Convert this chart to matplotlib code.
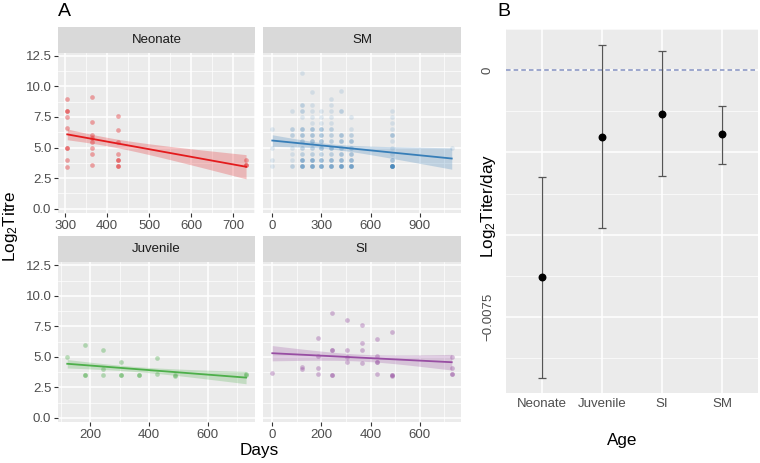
import matplotlib
matplotlib.use("Agg")
import matplotlib.pyplot as plt
import numpy as np

plt.rcParams['font.family'] = ['Liberation Sans', 'DejaVu Sans']
plt.rcParams['mathtext.fontset'] = 'custom'
plt.rcParams['mathtext.rm'] = 'Liberation Sans'
plt.rcParams['mathtext.it'] = 'Liberation Sans'

# Panel A data: day, log2 titre and how many samples sit on that same spot
#---------------------------------------------------------------------------
neonate_days = [305]*7 + [365]*8 + [426]*6 + [730]*2
neonate_titre = [9.0, 8.0, 7.5, 6.6, 5.0, 4.0, 3.4,
                 9.1, 7.1, 6.05, 5.8, 5.45, 5.0, 4.5, 3.55,
                 7.55, 6.45, 5.45, 4.5, 4.0, 3.45,
                 4.0, 3.6]
neonate_count = [3, 6, 3, 3, 6, 3, 3,
                 3, 3, 3, 3, 3, 3, 3, 3,
                 3, 3, 3, 3, 6, 6,
                 3, 6]

sm_days = ([0]*4 + [120]*7 + [180]*11 + [240]*12 + [300]*10 + [360]*12
           + [420]*8 + [480]*8 + [730]*10 + [1095])
sm_titre = [6.5, 5.0, 4.0, 3.5,
            8.0, 6.5, 6.0, 5.0, 4.5, 4.0, 3.5,
            11.1, 8.5, 8.0, 7.5, 6.5, 6.0, 5.5, 5.0, 4.5, 4.0, 3.5,
            9.5, 8.5, 8.0, 7.5, 7.0, 6.5, 6.0, 5.5, 5.0, 4.5, 4.0, 3.5,
            8.0, 7.5, 7.0, 6.5, 6.0, 5.5, 5.0, 4.5, 4.0, 3.5,
            9.0, 8.5, 8.0, 7.5, 7.0, 6.5, 6.0, 5.5, 5.0, 4.5, 4.0, 3.5,
            9.6, 8.0, 6.0, 5.5, 5.0, 4.5, 4.0, 3.5,
            7.5, 6.5, 6.0, 5.5, 5.0, 4.5, 4.0, 3.5,
            8.0, 7.5, 7.0, 6.5, 6.0, 5.5, 5.0, 4.5, 4.0, 3.5,
            5.0]
sm_count = [1, 1, 1, 1,
            1, 2, 2, 1, 1, 1, 2,
            1, 2, 2, 1, 3, 3, 2, 2, 2, 5, 6,
            1, 1, 1, 1, 1, 3, 3, 3, 2, 2, 5, 6,
            1, 1, 1, 3, 3, 3, 3, 2, 4, 6,
            1, 1, 1, 1, 1, 2, 2, 2, 3, 2, 4, 6,
            1, 2, 3, 3, 2, 3, 4, 7,
            1, 1, 2, 3, 2, 3, 4, 7,
            1, 1, 1, 1, 3, 1, 1, 1, 3, 13,
            1]

juvenile_days = [121, 183, 183, 242, 242, 242, 304, 304,
                 364, 427, 427, 487, 487, 730, 730]
juvenile_titre = [5.0, 6.0, 3.5, 5.6, 4.0, 3.5, 4.55, 3.5,
                  3.5, 4.95, 3.6, 3.5, 3.4, 3.5, 3.6]
juvenile_count = [3, 3, 6, 3, 3, 3, 3, 6,
                  6, 3, 3, 3, 3, 3, 3]

si_days = [0, 122, 122, 184, 184, 184, 184, 242, 242, 242,
           303, 303, 303, 303, 364, 364, 364, 364, 425, 425, 425, 425,
           486, 486, 486, 730, 730, 730]
si_titre = [3.7, 4.15, 4.0, 6.55, 5.1, 4.1, 3.6, 8.6, 5.6, 3.5,
            8.05, 5.55, 5.0, 4.6, 7.65, 6.1, 5.55, 4.5, 6.5, 5.05, 4.55, 3.6,
            7.05, 3.5, 3.45, 5.0, 4.1, 3.6]
si_count = [3, 3, 3, 3, 3, 3, 3, 3, 6, 6,
            3, 3, 3, 3, 3, 3, 3, 3, 3, 3, 6, 3,
            3, 6, 3, 3, 3, 6]

# Panel B data (slope estimate with 95% CI)
#---------------------------------------------------------------------------
age_groups = ['Neonate', 'Juvenile', 'SI', 'SM']
slope_est = [-0.00630, -0.00202, -0.00132, -0.00195]
slope_low = [-0.00935, -0.00480, -0.00322, -0.00285]
slope_high = [-0.00326, 0.00077, 0.00060, -0.00107]

W, H = 760, 463
BG = '#EBEBEB'
STRIP = '#D9D9D9'
TXT = '#4D4D4D'
FS_TICK = 9.5
FS_TITLE = 12.3


def px_axes(fig, x0, y0, x1, y1):
    # pixel box (top-left origin) -> axes
    return fig.add_axes([x0 / W, 1 - y1 / H, (x1 - x0) / W, (y1 - y0) / H])


def fit_line(x, y, xs):
    x = np.asarray(x, float)
    y = np.asarray(y, float)
    n = len(x)
    b, a = np.polyfit(x, y, 1)
    res = y - (a + b * x)
    s = np.sqrt(np.sum(res**2) / (n - 2))
    sxx = np.sum((x - x.mean())**2)
    se = s * np.sqrt(1 / n + (xs - x.mean())**2 / sxx)
    df = n - 2
    z = 1.96
    t = z + (z**3 + z) / (4 * df) + (5 * z**5 + 16 * z**3 + 3 * z) / (96 * df**2)
    yhat = a + b * xs
    return yhat, yhat - t * se, yhat + t * se


def style_panel(ax, xmajor, xminor, show_y):
    ax.set_facecolor(BG)
    for sp in ax.spines.values():
        sp.set_visible(False)
    ax.set_xticks(xmajor)
    ax.set_xticks(xminor, minor=True)
    ax.set_yticks([0, 2.5, 5.0, 7.5, 10.0, 12.5])
    ax.set_yticks([1.25, 3.75, 6.25, 8.75, 11.25], minor=True)
    ax.grid(True, which='major', color='white', lw=1.1)
    ax.grid(True, which='minor', color='white', lw=0.5)
    ax.set_axisbelow(True)
    ax.tick_params(which='major', length=3, color='#333333', labelcolor=TXT,
                   labelsize=FS_TICK, pad=2)
    ax.tick_params(which='minor', length=0)
    ax.set_yticklabels(['0.0', '2.5', '5.0', '7.5', '10.0', '12.5'])
    if not show_y:
        ax.tick_params(axis='y', which='both', left=False, labelleft=False)
    ax.set_ylim(-0.33, 12.75)


def strip(fig, x0, y0, x1, y1, label):
    s = px_axes(fig, x0, y0, x1, y1)
    s.set_facecolor(STRIP)
    s.set_xticks([])
    s.set_yticks([])
    for sp in s.spines.values():
        sp.set_visible(False)
    s.text(0.5, 0.5, label, ha='center', va='center', fontsize=FS_TICK, color='#1A1A1A')


fig = plt.figure(figsize=(7.6, 4.63), dpi=100)

panels = [
    ('Neonate', neonate_days, neonate_titre, neonate_count, '#E41A1C',
     (58.3, 27.3, 255, 52.7, 212.7), [300, 400, 500, 600, 700], [350, 450, 550, 650, 750], True),
    ('SM', sm_days, sm_titre, sm_count, '#377EB8',
     (263.3, 27.3, 460.7, 52.7, 212.7), [0, 300, 600, 900], [150, 450, 750, 1050], False),
    ('Juvenile', juvenile_days, juvenile_titre, juvenile_count, '#4DAF4A',
     (58.3, 236, 255, 262.3, 422), [200, 400, 600], [100, 300, 500, 700], True),
    ('SI', si_days, si_titre, si_count, '#984EA3',
     (263.3, 236, 460.7, 262.3, 422), [0, 200, 400, 600], [100, 300, 500, 700], False),
]

for name, dx, dy, cnt, col, box, xmaj, xmin, show_y in panels:
    x0, s0, x1, p0, p1 = box
    strip(fig, x0, s0, x1, p0, name)
    ax = px_axes(fig, x0, p0, x1, p1)
    # every sample is one point, stacked points get darker
    dx = np.repeat(np.asarray(dx, float), cnt)
    dy = np.repeat(np.asarray(dy, float), cnt)
    lo, hi = dx.min(), dx.max()
    pad = 0.05 * (hi - lo)
    xs = np.linspace(lo, hi, 80)
    yhat, ylo, yhi = fit_line(dx, dy, xs)
    ax.fill_between(xs, ylo, yhi, color=col, alpha=0.25, lw=0, zorder=2)
    ax.scatter(dx, dy, s=11, color=col, alpha=0.14, lw=0, zorder=3)
    ax.plot(xs, yhat, color=col, lw=1.3, zorder=4)
    style_panel(ax, xmaj, xmin, show_y)
    ax.set_xlim(lo - pad, hi + pad)

fig.text(10 / W, 1 - 226 / H, 'Log$_2$Titre', rotation=90, ha='center', va='center',
         fontsize=FS_TITLE)
fig.text(259 / W, 1 - 451 / H, 'Days', ha='center', va='center', fontsize=FS_TITLE)
fig.text(58 / W, 1 - 12 / H, 'A', ha='left', va='center', fontsize=14)
fig.text(497 / W, 1 - 12 / H, 'B', ha='left', va='center', fontsize=14)

# Panel B
#---------------------------------------------------------------------------
axb = px_axes(fig, 505.7, 29.3, 758, 393.3)
axb.set_facecolor(BG)
for sp in axb.spines.values():
    sp.set_visible(False)
pos = np.arange(1, len(age_groups) + 1)
est = np.array(slope_est)
err = np.vstack([est - np.array(slope_low), np.array(slope_high) - est])
axb.axhline(0, color='#8290C0', lw=1.1, ls=(0, (3, 2)), zorder=2)
axb.errorbar(pos, est, yerr=err, fmt='none', ecolor='#555555', elinewidth=0.9,
             capsize=2.6, capthick=0.9, zorder=3)
axb.scatter(pos, est, s=22, color='black', zorder=4)
axb.set_xlim(0.4, 4.6)
axb.set_ylim(-0.00983, 0.00125)
axb.set_xticks(pos)
axb.set_xticklabels(age_groups)
axb.set_yticks([0, -0.0025, -0.005, -0.0075])
axb.set_yticklabels(['0', '', '', '\u22120.0075'], rotation=90, va='center')
axb.set_yticks([0.00125, -0.00125, -0.00375, -0.00625, -0.00875], minor=True)
axb.grid(True, which='major', color='white', lw=1.1)
axb.grid(True, which='minor', axis='y', color='white', lw=0.5)
axb.set_axisbelow(True)
axb.tick_params(which='both', length=0, labelcolor=TXT, labelsize=FS_TICK)
axb.tick_params(axis='y', pad=8.5)
axb.tick_params(axis='x', pad=3.5)
fig.text(488 / W, 1 - 206 / H, 'Log$_2$Titer/day', rotation=90, ha='center',
         va='center', fontsize=FS_TITLE)
fig.text(622 / W, 1 - 441 / H, 'Age', ha='center', va='center', fontsize=FS_TITLE)

fig.savefig('out.png', dpi=100)
